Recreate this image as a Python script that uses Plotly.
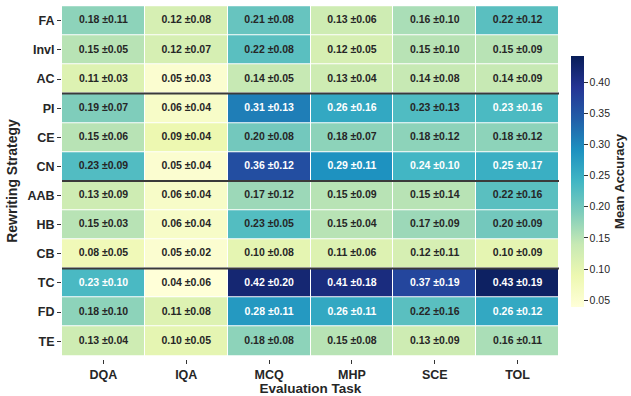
import plotly.graph_objects as go

strategies = ["FA", "Invl", "AC", "PI", "CE", "CN", "AAB", "HB", "CB", "TC", "FD", "TE"]
tasks = ["DQA", "IQA", "MCQ", "MHP", "SCE", "TOL"]

means = [
    [0.18, 0.12, 0.21, 0.13, 0.16, 0.22],
    [0.15, 0.12, 0.22, 0.12, 0.15, 0.15],
    [0.11, 0.05, 0.14, 0.13, 0.14, 0.14],
    [0.19, 0.06, 0.31, 0.26, 0.228, 0.232],
    [0.15, 0.09, 0.20, 0.18, 0.18, 0.18],
    [0.227, 0.05, 0.36, 0.29, 0.24, 0.25],
    [0.13, 0.06, 0.17, 0.15, 0.15, 0.22],
    [0.15, 0.06, 0.226, 0.15, 0.17, 0.20],
    [0.08, 0.05, 0.10, 0.11, 0.12, 0.10],
    [0.233, 0.04, 0.42, 0.41, 0.37, 0.434],
    [0.18, 0.11, 0.28, 0.26, 0.22, 0.26],
    [0.13, 0.10, 0.18, 0.15, 0.13, 0.16],
]
stds = [
    [0.11, 0.08, 0.08, 0.06, 0.10, 0.12],
    [0.05, 0.07, 0.08, 0.05, 0.10, 0.09],
    [0.03, 0.03, 0.05, 0.04, 0.08, 0.09],
    [0.07, 0.04, 0.13, 0.16, 0.13, 0.16],
    [0.06, 0.04, 0.08, 0.07, 0.12, 0.12],
    [0.09, 0.04, 0.12, 0.11, 0.10, 0.17],
    [0.09, 0.04, 0.12, 0.09, 0.14, 0.16],
    [0.03, 0.04, 0.05, 0.04, 0.09, 0.09],
    [0.05, 0.02, 0.08, 0.06, 0.11, 0.09],
    [0.10, 0.06, 0.20, 0.18, 0.19, 0.19],
    [0.10, 0.08, 0.11, 0.11, 0.16, 0.12],
    [0.04, 0.05, 0.08, 0.08, 0.09, 0.11],
]
group_breaks_after = ["AC", "CN", "CB"]
colorbar_ticks = [0.05, 0.10, 0.15, 0.20, 0.25, 0.30, 0.35, 0.40]

FONT = "Liberation Sans, Arial, sans-serif"
DARK = "#262626"

fig = go.Figure()
fig.add_trace(go.Heatmap(
    z=means, x=tasks, y=strategies,
    colorscale="YlGnBu", zmin=0.039, zmax=0.442,
    xgap=1, ygap=1, hoverinfo="skip",
    colorbar=dict(
        thickness=13, len=251, lenmode="pixels",
        x=1.0, xanchor="left", xpad=12, xref="paper",
        y=(359 - 56) / 356, yanchor="top", ypad=0,
        outlinewidth=0,
        tickvals=colorbar_ticks, ticktext=[f"{v:.2f}" for v in colorbar_ticks],
        ticks="outside", ticklen=4, tickwidth=1, tickcolor="#333",
        tickfont=dict(family=FONT, size=10.5, color=DARK),
        title=dict(text="<b>Mean Accuracy</b>", side="right",
                   font=dict(family=FONT, size=13, color=DARK)),
    ),
))

tx, ty, tt, tc = [], [], [], []
for i, s in enumerate(strategies):
    for j, t in enumerate(tasks):
        tx.append(t)
        ty.append(s)
        tt.append(f"<b>{means[i][j]:.2f} ±{stds[i][j]:.2f}</b>")
        tc.append("white" if means[i][j] > 0.23 else DARK)
fig.add_trace(go.Scatter(
    x=tx, y=ty, mode="text", text=tt,
    textfont=dict(family=FONT, size=10.5, color=tc),
    hoverinfo="skip", showlegend=False,
))

for name in group_breaks_after:
    k = strategies.index(name) + 0.5
    fig.add_shape(type="line", xref="x domain", yref="y", x0=0, x1=1, y0=k, y1=k,
                  line=dict(color="#3a3a3a", width=2))

fig.update_layout(
    width=631, height=396,
    margin=dict(l=62, r=72, t=3, b=37, autoexpand=False),
    paper_bgcolor="white", plot_bgcolor="white",
    font=dict(family=FONT, color=DARK),
    showlegend=False,
)
fig.update_xaxes(
    type="category", showgrid=False, zeroline=False,
    ticks="outside", ticklen=4, tickcolor="#333",
    tickfont=dict(family=FONT, size=12.5, color=DARK),
    tickvals=tasks, ticktext=[f"<b>{t}</b>" for t in tasks],
    title=dict(text="<b>Evaluation Task</b>", font=dict(family=FONT, size=13.5, color=DARK), standoff=2),
    range=[-0.5, len(tasks) - 0.5], automargin=False,
)
fig.update_yaxes(
    type="category", showgrid=False, zeroline=False, autorange="reversed",
    ticks="outside", ticklen=4, tickcolor="#333",
    tickfont=dict(family=FONT, size=12.5, color=DARK),
    tickvals=strategies, ticktext=[f"<b>{s}</b>" for s in strategies],
    title=dict(text="<b>Rewriting Strategy</b>", font=dict(family=FONT, size=14, color=DARK), standoff=6),
    automargin=False,
)

fig.write_html("out.html")
